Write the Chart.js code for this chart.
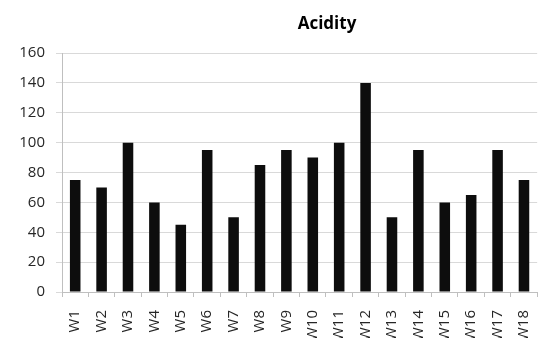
<!DOCTYPE html>
<html>
<head>
<meta charset="utf-8">
<script src="https://cdn.jsdelivr.net/npm/chart.js@4"></script>
<style>
  html, body { margin: 0; padding: 0; background: #fff; overflow: hidden; }
  canvas { display: block; }
</style>
</head>
<body>
<canvas id="acidityChart" width="555" height="338"></canvas>
<script>
// Weekly acidity readings
const weeks = ['W1', 'W2', 'W3', 'W4', 'W5', 'W6', 'W7', 'W8', 'W9', 'W10',
               'W11', 'W12', 'W13', 'W14', 'W15', 'W16', 'W17', 'W18'];
const acidity = [75, 70, 100, 60, 45, 95, 50, 85, 95, 90,
                 100, 140, 50, 95, 60, 65, 95, 75];
const yMin = 0;
const yMax = 160;
const yStep = 20;

const chartTitle = 'Acidity';

// title sits a little right of the plot centre
const titlePlugin = {
    id: 'offsetTitle',
    afterDraw(chart) {
        const ctx = chart.ctx;
        ctx.save();
        ctx.font = 'bold 17px "Open Sans"';
        ctx.fillStyle = '#000';
        ctx.textAlign = 'center';
        ctx.textBaseline = 'middle';
        ctx.fillText(chartTitle, 327, 24);
        ctx.restore();
    }
};

const ctx = document.getElementById('acidityChart');
new Chart(ctx, {
    type: 'bar',
    data: {
        labels: weeks,
        datasets: [{
            label: chartTitle,
            data: acidity,
            backgroundColor: '#0d0d0d',
            barPercentage: 0.4,
            categoryPercentage: 1.0
        }]
    },
    options: {
        responsive: false,
        animation: false,
        layout: {
            padding: { top: 53, right: 1, left: 0, bottom: 0 }
        },
        plugins: {
            legend: { display: false },
            title: { display: false },
            tooltip: { enabled: false }
        },
        scales: {
            x: {
                afterFit: function (scale) { scale.height = 46; },
                grid: {
                    drawOnChartArea: false,
                    color: '#bfbfbf',
                    tickLength: 5
                },
                border: { color: '#bfbfbf' },
                ticks: {
                    minRotation: 90,
                    maxRotation: 90,
                    autoSkip: false,
                    padding: 13,
                    color: '#262626',
                    font: { family: '"Open Sans"', size: 15 }
                }
            },
            y: {
                min: yMin,
                max: yMax,
                afterFit: function (scale) { scale.width = 62; },
                grid: {
                    color: '#d9d9d9',
                    tickLength: 6
                },
                border: { color: '#bfbfbf' },
                ticks: {
                    stepSize: yStep,
                    padding: 11,
                    color: '#262626',
                    font: { family: '"Open Sans"', size: 15 }
                }
            }
        }
    },
    plugins: [titlePlugin]
});
</script>
</body>
</html>
